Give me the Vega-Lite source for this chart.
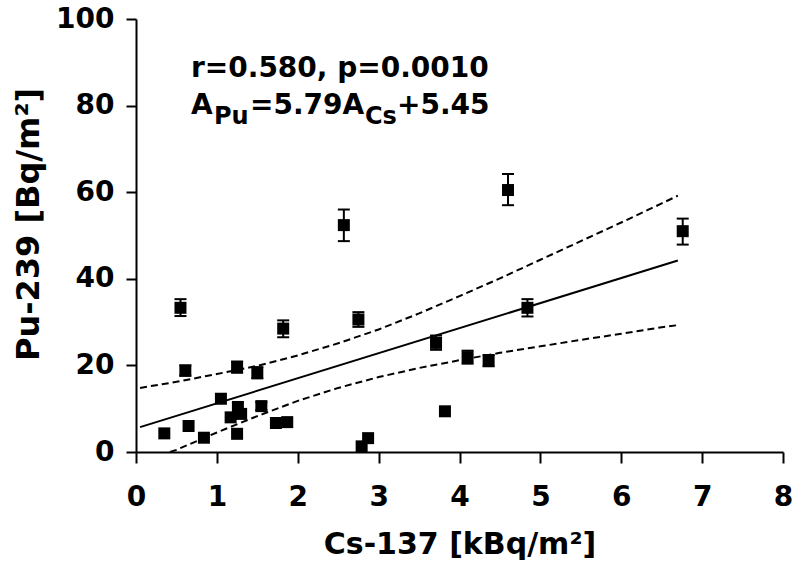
{
  "$schema": "https://vega.github.io/schema/vega-lite/v6.json",
  "width": 647,
  "height": 433,
  "autosize": {"type": "none"},
  "padding": {"left": 136, "top": 19, "right": 13, "bottom": 124},
  "background": "white",
  "config": {
    "view": {"stroke": null},
    "font": "DejaVu Sans",
    "axis": {
      "grid": false,
      "domainColor": "black",
      "domainWidth": 2,
      "tickColor": "black",
      "tickWidth": 2,
      "labelColor": "black",
      "labelFont": "DejaVu Sans",
      "labelFontWeight": "bold",
      "labelFontSize": 28,
      "labelFlush": false,
      "labelOverlap": false,
      "titleColor": "black",
      "titleFont": "DejaVu Sans",
      "titleFontWeight": "bold"
    }
  },
  "datasets": {
    "pts": [
      {"x": 0.35, "y": 4.3, "lo": null, "hi": null},
      {"x": 0.55, "y": 33.3, "lo": 31.4, "hi": 35.3},
      {"x": 0.61, "y": 18.8, "lo": 17.6, "hi": 20.0},
      {"x": 0.65, "y": 6.0, "lo": null, "hi": null},
      {"x": 0.84, "y": 3.3, "lo": null, "hi": null},
      {"x": 1.05, "y": 12.3, "lo": null, "hi": null},
      {"x": 1.17, "y": 8.0, "lo": null, "hi": null},
      {"x": 1.25, "y": 19.6, "lo": 18.3, "hi": 20.9},
      {"x": 1.26, "y": 10.4, "lo": null, "hi": null},
      {"x": 1.25, "y": 4.2, "lo": null, "hi": null},
      {"x": 1.30, "y": 8.8, "lo": null, "hi": null},
      {"x": 1.50, "y": 18.3, "lo": 17.0, "hi": 19.6},
      {"x": 1.55, "y": 10.6, "lo": 9.7, "hi": 11.5},
      {"x": 1.73, "y": 6.7, "lo": null, "hi": null},
      {"x": 1.87, "y": 6.9, "lo": null, "hi": null},
      {"x": 1.82, "y": 28.5, "lo": 26.5, "hi": 30.4},
      {"x": 2.57, "y": 52.4, "lo": 48.7, "hi": 56.0},
      {"x": 2.75, "y": 30.6, "lo": 28.9, "hi": 32.3},
      {"x": 2.79, "y": 1.3, "lo": null, "hi": null},
      {"x": 2.87, "y": 3.2, "lo": null, "hi": null},
      {"x": 3.71, "y": 25.2, "lo": 23.6, "hi": 26.9},
      {"x": 3.82, "y": 9.4, "lo": null, "hi": null},
      {"x": 4.10, "y": 21.9, "lo": 20.4, "hi": 23.4},
      {"x": 4.36, "y": 21.1, "lo": 19.8, "hi": 22.4},
      {"x": 4.60, "y": 60.5, "lo": 57.0, "hi": 64.2},
      {"x": 4.84, "y": 33.3, "lo": 31.3, "hi": 35.3},
      {"x": 6.76, "y": 51.0, "lo": 47.9, "hi": 53.9}
    ],
    "fit": [
      {"x": 0.05, "y": 5.74},
      {"x": 6.7, "y": 44.24}
    ],
    "upper": [
      {"x": 0.05, "y": 14.8}, {"x": 0.5, "y": 16.2}, {"x": 1.0, "y": 18.0},
      {"x": 1.5, "y": 19.9}, {"x": 2.0, "y": 22.3}, {"x": 2.5, "y": 25.1},
      {"x": 3.0, "y": 28.3}, {"x": 3.5, "y": 32.0}, {"x": 4.0, "y": 36.0},
      {"x": 4.5, "y": 40.1}, {"x": 5.0, "y": 44.4}, {"x": 5.5, "y": 48.7},
      {"x": 6.0, "y": 53.0}, {"x": 6.5, "y": 57.4}, {"x": 6.7, "y": 59.2}
    ],
    "lower": [
      {"x": 0.42, "y": 0.0}, {"x": 0.5, "y": 0.5}, {"x": 1.0, "y": 4.5},
      {"x": 1.5, "y": 8.3}, {"x": 2.0, "y": 11.8}, {"x": 2.5, "y": 14.8},
      {"x": 3.0, "y": 17.3}, {"x": 3.5, "y": 19.4}, {"x": 4.0, "y": 21.2},
      {"x": 4.5, "y": 22.9}, {"x": 5.0, "y": 24.4}, {"x": 5.5, "y": 25.9},
      {"x": 6.0, "y": 27.3}, {"x": 6.5, "y": 28.8}, {"x": 6.7, "y": 29.3}
    ],
    "notes": [
      {"label": "r=0.580, p=0.0010", "part": "l1"},
      {"label": "A", "part": "a"},
      {"label": "Pu", "part": "pu"},
      {"label": "=5.79A", "part": "mid"},
      {"label": "Cs", "part": "cs"},
      {"label": "+5.45", "part": "end"}
    ]
  },
  "layer": [
    {
      "data": {"name": "upper"},
      "mark": {"type": "line", "color": "black", "strokeWidth": 2, "strokeDash": [7, 4]},
      "encoding": {
        "x": {
          "field": "x",
          "type": "quantitative",
          "scale": {"domain": [0, 8], "nice": false, "zero": false},
          "axis": {
            "values": [0, 1, 2, 3, 4, 5, 6, 7, 8],
            "format": "d",
            "title": "Cs-137 [kBq/m²]",
            "tickSize": 11,
            "labelPadding": 20,
            "titleFontSize": 30,
            "titlePadding": 18
          }
        },
        "y": {
          "field": "y",
          "type": "quantitative",
          "scale": {"domain": [0, 100], "nice": false, "zero": false},
          "axis": {
            "values": [0, 20, 40, 60, 80, 100],
            "format": "d",
            "title": "Pu-239 [Bq/m²]",
            "tickSize": 10,
            "labelPadding": 12,
            "titleFontSize": 32,
            "titlePadding": 10,
            "titleY": 205
          }
        }
      }
    },
    {
      "data": {"name": "lower"},
      "mark": {"type": "line", "color": "black", "strokeWidth": 2, "strokeDash": [7, 4]},
      "encoding": {
        "x": {"field": "x", "type": "quantitative"},
        "y": {"field": "y", "type": "quantitative"}
      }
    },
    {
      "data": {"name": "fit"},
      "mark": {"type": "line", "color": "black", "strokeWidth": 2},
      "encoding": {
        "x": {"field": "x", "type": "quantitative"},
        "y": {"field": "y", "type": "quantitative"}
      }
    },
    {
      "data": {"name": "pts"},
      "transform": [{"filter": "isValid(datum.lo)"}],
      "mark": {"type": "rule", "color": "black", "strokeWidth": 2},
      "encoding": {
        "x": {"field": "x", "type": "quantitative"},
        "y": {"field": "lo", "type": "quantitative"},
        "y2": {"field": "hi"}
      }
    },
    {
      "data": {"name": "pts"},
      "transform": [{"filter": "isValid(datum.lo)"}],
      "mark": {"type": "tick", "color": "black", "orient": "horizontal", "size": 12, "thickness": 2, "opacity": 1},
      "encoding": {
        "x": {"field": "x", "type": "quantitative"},
        "y": {"field": "lo", "type": "quantitative"}
      }
    },
    {
      "data": {"name": "pts"},
      "transform": [{"filter": "isValid(datum.hi)"}],
      "mark": {"type": "tick", "color": "black", "orient": "horizontal", "size": 12, "thickness": 2, "opacity": 1},
      "encoding": {
        "x": {"field": "x", "type": "quantitative"},
        "y": {"field": "hi", "type": "quantitative"}
      }
    },
    {
      "data": {"name": "pts"},
      "mark": {"type": "square", "color": "black", "filled": true, "opacity": 1, "size": 144},
      "encoding": {
        "x": {"field": "x", "type": "quantitative"},
        "y": {"field": "y", "type": "quantitative"}
      }
    },
    {
      "data": {"name": "notes"},
      "transform": [{"filter": "datum.part === 'l1'"}],
      "mark": {"type": "text", "align": "left", "baseline": "alphabetic", "fontSize": 28, "fontWeight": "bold", "color": "black"},
      "encoding": {
        "x": {"datum": 0.68},
        "y": {"datum": 86.5},
        "text": {"field": "label"}
      }
    },
    {
      "data": {"name": "notes"},
      "transform": [{"filter": "datum.part === 'a'"}],
      "mark": {"type": "text", "align": "left", "baseline": "alphabetic", "fontSize": 28, "fontWeight": "bold", "color": "black"},
      "encoding": {
        "x": {"datum": 0.68},
        "y": {"datum": 78.0},
        "text": {"field": "label"}
      }
    },
    {
      "data": {"name": "notes"},
      "transform": [{"filter": "datum.part === 'pu'"}],
      "mark": {"type": "text", "align": "left", "baseline": "alphabetic", "fontSize": 24, "fontWeight": "bold", "color": "black", "dx": 23, "dy": 10},
      "encoding": {
        "x": {"datum": 0.68},
        "y": {"datum": 78.0},
        "text": {"field": "label"}
      }
    },
    {
      "data": {"name": "notes"},
      "transform": [{"filter": "datum.part === 'mid'"}],
      "mark": {"type": "text", "align": "left", "baseline": "alphabetic", "fontSize": 28, "fontWeight": "bold", "color": "black", "dx": 59},
      "encoding": {
        "x": {"datum": 0.68},
        "y": {"datum": 78.0},
        "text": {"field": "label"}
      }
    },
    {
      "data": {"name": "notes"},
      "transform": [{"filter": "datum.part === 'cs'"}],
      "mark": {"type": "text", "align": "left", "baseline": "alphabetic", "fontSize": 24, "fontWeight": "bold", "color": "black", "dx": 174, "dy": 10},
      "encoding": {
        "x": {"datum": 0.68},
        "y": {"datum": 78.0},
        "text": {"field": "label"}
      }
    },
    {
      "data": {"name": "notes"},
      "transform": [{"filter": "datum.part === 'end'"}],
      "mark": {"type": "text", "align": "left", "baseline": "alphabetic", "fontSize": 28, "fontWeight": "bold", "color": "black", "dx": 206},
      "encoding": {
        "x": {"datum": 0.68},
        "y": {"datum": 78.0},
        "text": {"field": "label"}
      }
    }
  ]
}
